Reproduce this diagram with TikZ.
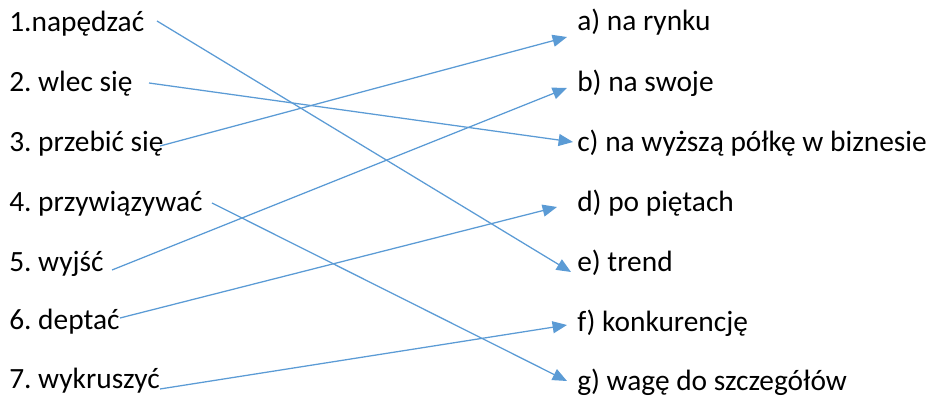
\documentclass[tikz,border=0pt]{standalone}
\usepackage{fontspec}
\setmainfont{Carlito}
\frenchspacing
\usetikzlibrary{arrows.meta}
\definecolor{lineblue}{HTML}{5B9BD5}

\begin{document}
\begin{tikzpicture}[x=0.025cm,y=-0.025cm,
    word/.style={inner sep=0pt,anchor=west,font=\fontsize{20.9}{24}\selectfont},
    link/.style={lineblue,line width=0.9pt,-{Triangle[length=0.36cm,width=0.3cm]}}]
      \useasboundingbox (0,0) rectangle (928,398);

      % left column
      \node[word] (l1) at (9,24) {1.napędzać};
      \node[word] (l2) at (9,84) {2. wlec się};
      \node[word] (l3) at (9,144) {3. przebić się};
      \node[word] (l4) at (9,204) {4. przywiązywać};
      \node[word] (l5) at (9,264) {5. wyjść};
      \node[word] (l6) at (9,322) {6. deptać};
      \node[word] (l7) at (9,381) {7. wykruszyć};

      % right column
      \node[word] (ra) at (577,22) {a) na rynku};
      \node[word] (rb) at (577,83) {b) na swoje};
      \node[word] (rc) at (577,143) {c) na wyższą półkę w biznesie};
      \node[word] (rd) at (577,203) {d) po piętach};
      \node[word] (re) at (577,263) {e) trend};
      \node[word] (rf) at (577,323) {f) konkurencję};
      \node[word] (rg) at (577,382) {g) wagę do szczegółów};

      \coordinate (s1) at (157,21);
      \coordinate (s2) at (149,83);
      \coordinate (s3) at (160,146);
      \coordinate (s4) at (212,203);
      \coordinate (s5) at (112,270);
      \coordinate (s6) at (120,318);
      \coordinate (s7) at (160,389);

      \coordinate (ea) at (567,37);
      \coordinate (eb) at (567,88);
      \coordinate (ec) at (573,142);
      \coordinate (ed) at (557,207);
      \coordinate (ee) at (571,272);
      \coordinate (ef) at (567,325);
      \coordinate (eg) at (567,381);

      \draw[link] (s1) -- (ee);
      \draw[link] (s2) -- (ec);
      \draw[link] (s3) -- (ea);
      \draw[link] (s4) -- (eg);
      \draw[link] (s5) -- (eb);
      \draw[link] (s6) -- (ed);
      \draw[link] (s7) -- (ef);
\end{tikzpicture}
\end{document}
